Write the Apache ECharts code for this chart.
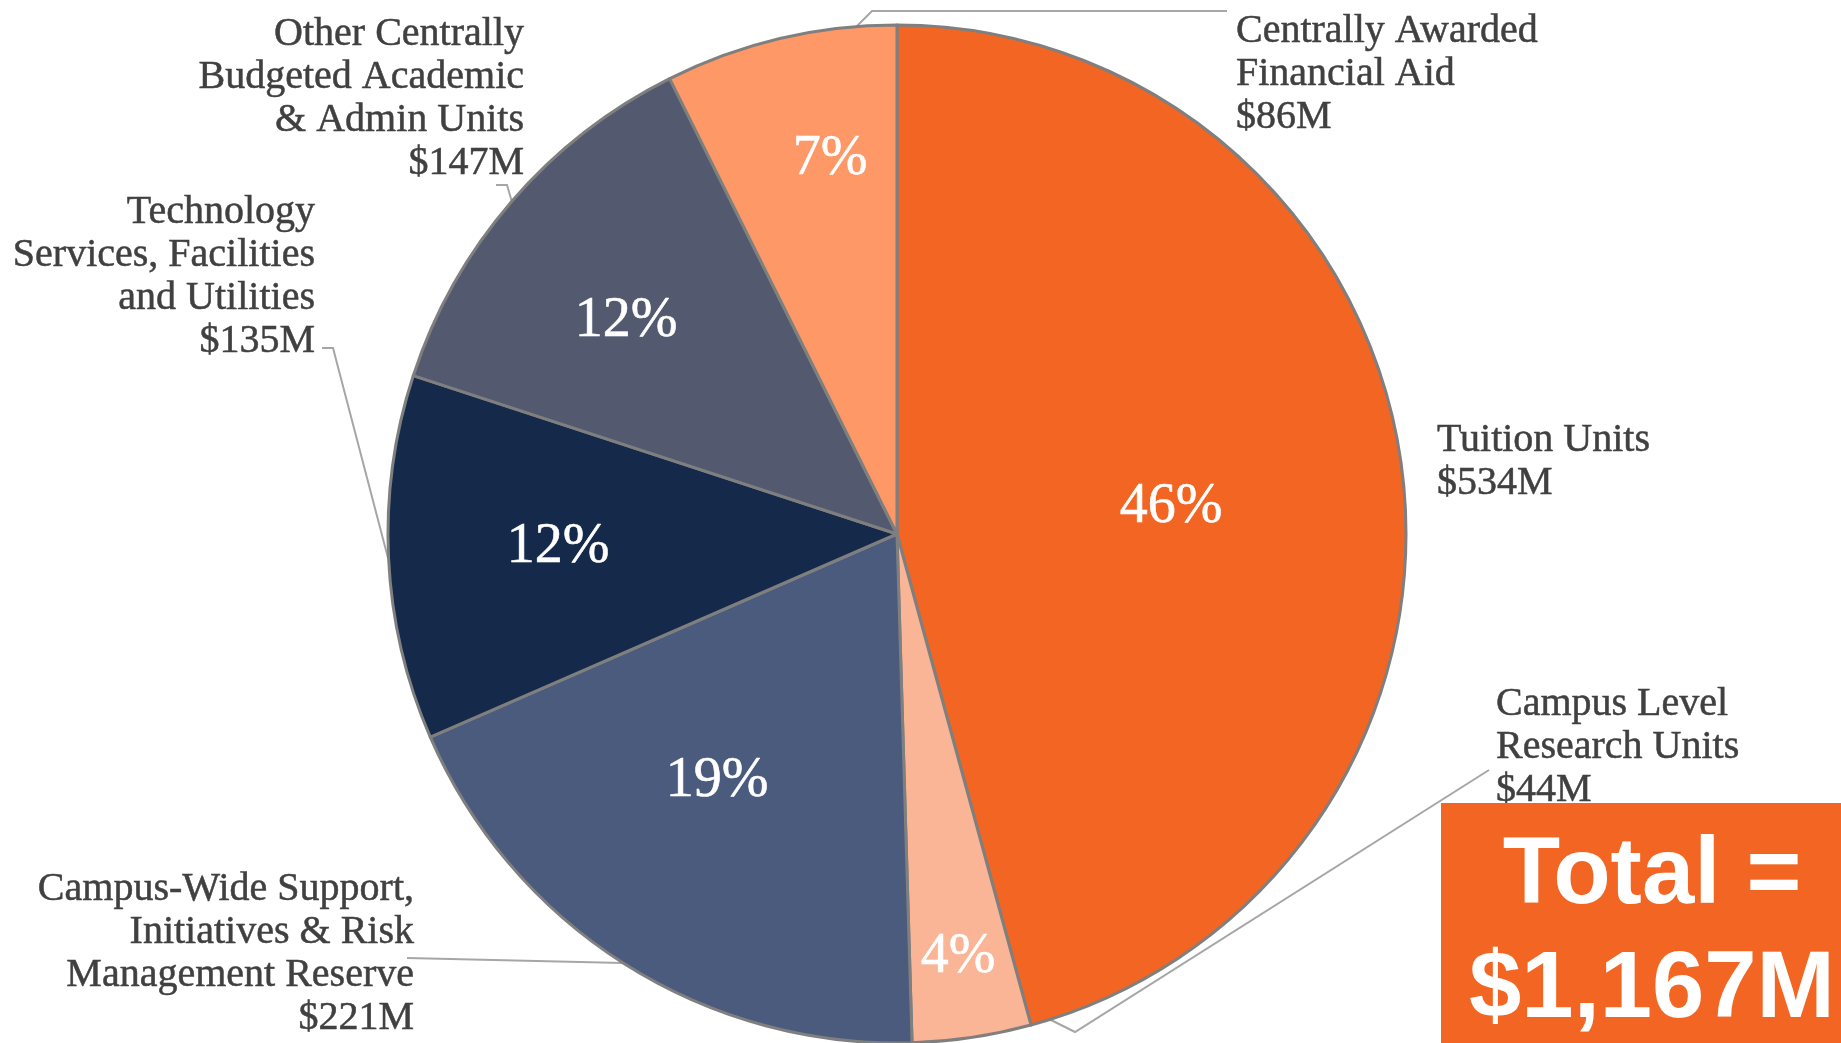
<!DOCTYPE html>
<html>
<head>
<meta charset="utf-8">
<script src="https://cdn.jsdelivr.net/npm/echarts@6/dist/echarts.min.js"></script>
<style>
html,body{margin:0;padding:0;background:#fff;}
#chart{width:1841px;height:1043px;}
</style>
</head>
<body>
<div id="chart"></div>
<script>
// ---- data ----
const categories = [
  'Tuition Units',
  'Campus Level\nResearch Units',
  'Campus-Wide Support,\nInitiatives & Risk\nManagement Reserve',
  'Technology\nServices, Facilities\nand Utilities',
  'Other Centrally\nBudgeted Academic\n& Admin Units',
  'Centrally Awarded\nFinancial Aid'
];
const values = [534, 44, 221, 135, 147, 86];          // $M
const percentLabels = ['46%', '4%', '19%', '12%', '12%', '7%'];
const colors = ['#F26522', '#F9B596', '#4A5B7E', '#15294B', '#535A70', '#FE9866'];

// ---- label layout (annotation placement) ----
const nameLabelPos = [
  {x: 1437, y: 462, align: 'left'},
  {x: 1496, y: 747, align: 'left'},
  {x: 414,  y: 954, align: 'right'},
  {x: 315,  y: 277, align: 'right'},
  {x: 524,  y: 99,  align: 'right'},
  {x: 1236, y: 74,  align: 'left'}
];
const leaderLines = [
  null,
  [[1045, 1017], [1075, 1032], [1489, 770]],
  [[623, 963], [623, 963], [407, 958]],
  [[388, 558], [333, 348], [322, 348]],
  [[512, 202], [507, 185], [496, 185]],
  [[853, 30], [872, 11], [1227, 11]]
];
const pctLabelPos = [[1171, 507], [958, 957], [717, 781], [558, 547], [626, 321], [830, 159]];

const total = values.reduce((a, b) => a + b, 0);
const totalText = 'Total =\n$' + total.toLocaleString('en-US') + 'M';

const seriesData = categories.map((c, i) => ({
  name: c,
  value: values[i],
  itemStyle: {color: colors[i]},
  labelLine: {show: leaderLines[i] !== null}
}));

const chart = echarts.init(document.getElementById('chart'), null, {renderer: 'canvas'});
chart.setOption({
  backgroundColor: '#ffffff',
  animation: false,
  series: [
    {
      type: 'pie',
      center: [897, 534],
      radius: 509,
      startAngle: 90,
      clockwise: true,
      avoidLabelOverlap: false,
      data: seriesData,
      itemStyle: {borderColor: '#7F7F7F', borderWidth: 3},
      label: {
        show: true,
        position: 'outside',
        formatter: p => p.name + '\n$' + p.value + 'M',
        fontFamily: 'Liberation Serif',
        fontSize: 40,
        lineHeight: 43,
        color: '#404040',
        textBorderColor: '#404040',
        textBorderWidth: 0.5
      },
      labelLine: {show: true, lineStyle: {color: '#A6A6A6', width: 2}},
      labelLayout: function (params) {
        const i = params.dataIndex;
        const p = nameLabelPos[i];
        const out = {x: p.x, y: p.y, align: p.align, verticalAlign: 'middle'};
        if (leaderLines[i]) out.labelLinePoints = leaderLines[i];
        return out;
      }
    },
    {
      type: 'pie',
      center: [897, 534],
      radius: 509,
      startAngle: 90,
      clockwise: true,
      silent: true,
      avoidLabelOverlap: false,
      data: categories.map((c, i) => ({name: c, value: values[i]})),
      itemStyle: {color: 'rgba(0,0,0,0)', borderWidth: 0},
      label: {
        show: true,
        position: 'inside',
        formatter: p => percentLabels[p.dataIndex],
        fontFamily: 'Liberation Serif',
        fontSize: 56,
        color: '#ffffff',
        textBorderColor: '#ffffff',
        textBorderWidth: 0.6
      },
      labelLine: {show: false},
      labelLayout: function (params) {
        const p = pctLabelPos[params.dataIndex];
        return {x: p[0], y: p[1], align: 'center', verticalAlign: 'middle'};
      }
    }
  ],
  graphic: [
    {
      type: 'rect',
      shape: {x: 1441, y: 803, width: 420, height: 260},
      style: {fill: '#F26522'},
      z: 10
    },
    {
      type: 'text',
      x: 1652,
      y: 934,
      z: 11,
      style: {
        text: totalText,
        fill: '#ffffff',
        font: 'bold 94px "Liberation Sans", Arial, sans-serif',
        lineHeight: 114,
        align: 'center',
        verticalAlign: 'middle'
      }
    }
  ]
});
</script>
</body>
</html>
